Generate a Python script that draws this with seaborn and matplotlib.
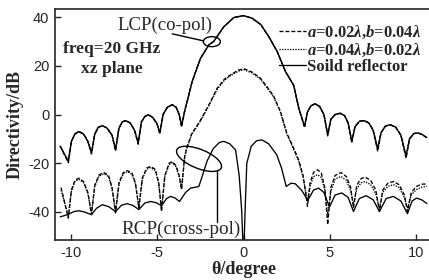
import numpy as np
import pandas as pd
import matplotlib
matplotlib.use("Agg")
import matplotlib.pyplot as plt
import matplotlib.transforms as mtransforms
from matplotlib.patches import Ellipse
from matplotlib.lines import Line2D
import seaborn as sns

# co-pol (LCP), solid reflector
co_theta = [-10.6, -10.13, -9.95, -9.75, -9.52, -9.25, -9.0, -8.79, -8.6, -8.4, -8.17, -7.9, -7.6, -7.4,
            -7.2, -7.0, -6.82, -6.55, -6.3, -6.09, -5.9, -5.7, -5.51, -5.25, -5.0, -4.84, -4.65, -4.4,
            -4.12, -3.9, -3.72, -3.58, -3.4, -3.26, -2.97, -2.49, -2.0, -1.72, -1.14, -0.56, 0.0, 0.5,
            1.0, 1.46, 1.95, 2.43, 2.9, 3.2, 3.53, 3.7, 3.9, 4.14, 4.4, 4.65, 4.87, 5.05, 5.3, 5.59,
            5.85, 6.05, 6.26, 6.45, 6.7, 6.97, 7.25, 7.5, 7.76, 7.95, 8.2, 8.48, 8.8, 9.1, 9.4, 9.6,
            9.85, 10.1, 10.35, 10.6]
co_solid = [-13, -19.3, -11, -8, -7, -8, -11, -15.8, -8, -5.3, -4.6, -5.5, -8.5, -14.5,
            -5.5, -3, -2.5, -3.5, -6.5, -11.7, -3, -0.8, -0.1, -1.2, -3.8, -7.6, 0, 3,
            4, 3, 0, -4.6, 1.5, 5.3, 13.5, 23, 28.6, 30, 36, 39.8, 40.6, 39.5,
            36.9, 32, 25.8, 17.6, 12, 2.5, -4.9, 1, 3.6, 4.4, 3.3, 0, -8.3, -2, 0, 0.5,
            -0.5, -3.5, -11, -5, -2.8, -2.5, -3.5, -6.5, -14.2, -7.5, -4.8, -4.2, -5.2, -8.5, -17.2, -10,
            -7.8, -7.6, -8.3, -9.5]
co_grid_a = [-13, -19.8, -11, -8, -7, -8, -11, -16.2, -8, -5.3, -4.6, -5.5, -8.5, -15.0,
             -5.5, -3, -2.5, -3.5, -6.5, -12.2, -3, -0.8, -0.1, -1.2, -3.8, -8.0, 0, 3,
             4, 3, 0, -5.2, 1.5, 5.3, 13.5, 23, 28.6, 30, 36, 39.8, 40.6, 39.5,
             36.9, 32, 25.8, 17.6, 12, 2.5, -5.4, 1, 3.6, 4.4, 3.3, 0, -8.8, -2, 0, 0.5,
             -0.5, -3.5, -11.6, -5, -2.8, -2.5, -3.5, -6.5, -15.2, -7.5, -4.8, -4.2, -5.2, -8.5, -18.0, -10,
             -7.8, -7.6, -8.3, -9.5]
co_grid_b = [-13, -19.0, -11, -8, -7, -8, -11, -15.5, -8, -5.3, -4.6, -5.5, -8.5, -14.2,
             -5.5, -3, -2.5, -3.5, -6.5, -11.4, -3, -0.8, -0.1, -1.2, -3.8, -7.4, 0, 3,
             4, 3, 0, -4.4, 1.5, 5.3, 13.5, 23, 28.6, 30, 36, 39.8, 40.6, 39.5,
             36.9, 32, 25.8, 17.6, 12, 2.5, -4.6, 1, 3.6, 4.4, 3.3, 0, -8.0, -2, 0, 0.5,
             -0.5, -3.5, -10.6, -5, -2.8, -2.5, -3.5, -6.5, -13.8, -7.5, -4.8, -4.2, -5.2, -8.5, -16.6, -10,
             -7.8, -7.6, -8.3, -9.5]

# cross-pol (RCP), grid reflectors
x_theta = [-10.55, -10.13, -9.95, -9.75, -9.52, -9.25, -9.0, -8.79, -8.6, -8.35, -8.07, -7.8, -7.6, -7.4,
           -7.2, -6.95, -6.72, -6.45, -6.25, -6.05, -5.85, -5.6, -5.38, -5.1, -4.9, -4.74, -4.55, -4.3,
           -4.12, -3.9, -3.72, -3.58, -3.4, -3.25, -3.0, -2.5, -2.0, -1.52, -1.1, -0.75, -0.3, 0.02,
           0.5, 0.98, 1.4, 1.75, 2.14, 2.5, 2.85, 3.18, 3.45, 3.7, 3.85, 4.05, 4.28, 4.5, 4.7, 4.87,
           5.05, 5.3, 5.63, 5.95, 6.2, 6.36, 6.55, 6.8, 7.03, 7.35, 7.65, 7.86, 8.05, 8.35, 8.67, 9.0,
           9.3, 9.48, 9.7, 10.0, 10.3, 10.6]
x_grid_a = [-30, -42.5, -31, -27, -26.1, -27.5, -32, -41.1, -29, -24.8, -23.8, -25, -30, -40.4,
            -28, -23.8, -23, -24, -28, -38.4, -26, -22, -21.3, -22.5, -28, -39.8, -25, -20,
            -19.3, -21, -25, -30.9, -17, -13, -8, -2.5, 4, 10.8, 14.5, 16.3, 18.2, 18.8,
            17.4, 14.9, 11, 7.5, 1.2, -7.6, -13, -18.4, -25, -37.7, -28, -23.8, -22.7, -24, -30, -45.2,
            -30, -25, -23.8, -25.5, -30, -38.4, -29, -26.3, -25.7, -27, -31, -39.8, -31, -28.2, -27.5, -28.8,
            -33, -39.8, -32, -29.5, -28.6, -28.5]
x_grid_b = [-31, -41.5, -31.5, -27.5, -26.6, -28, -32.5, -40.5, -29.5, -25.3, -24.3, -25.5, -30.5, -39.8,
            -28.5, -24.3, -23.5, -24.5, -28.5, -37.8, -26.5, -22.5, -21.8, -23, -28.5, -39, -25.5, -20.5,
            -19.8, -21.5, -25.5, -30.2, -17.3, -13.3, -8.3, -2.8, 3.6, 10.4, 14.1, 15.9, 17.8, 18.4,
            17.0, 14.5, 10.6, 7.1, 0.8, -8, -13.5, -19, -26, -35.5, -29.5, -25.5, -24.7, -25.8, -31, -41,
            -31.5, -26.5, -25.4, -27, -31.5, -37, -30.5, -28, -27.5, -28.8, -32.5, -38.5, -32, -29.5, -28.8, -30,
            -34, -38.5, -33, -30.8, -29.8, -29.5]

# cross-pol (RCP), solid reflector
xs_theta = [-10.6, -10.13, -9.8, -9.52, -9.2, -8.79, -8.5, -8.17, -7.8, -7.4, -7.05, -6.72, -6.4, -6.05,
            -5.7, -5.38, -5.05, -4.74, -4.45, -4.22, -3.95, -3.7, -3.35, -3.06, -2.75, -2.58, -2.39, -2.1,
            -1.75, -1.4, -1.14, -0.8, -0.46, -0.25, -0.1, 0.0, 0.1, 0.19, 0.45, 0.75, 1.06, 1.45,
            1.92, 2.2, 2.47, 2.75, 2.99, 3.35, 3.72, 4.05, 4.34, 4.65, 4.97, 5.3, 5.68, 6.05,
            6.36, 6.7, 7.09, 7.5, 7.86, 8.25, 8.67, 9.1, 9.48, 9.75, 10.0, 10.3, 10.6]
xs_solid = [-42, -41, -39.8, -39.5, -40, -41.1, -38.5, -37, -37.8, -39.8, -37.2, -36.6, -37.3, -39,
            -36.3, -35.7, -36.2, -37.4, -34.5, -33.6, -34.3, -35.7, -32, -30.2, -29.8, -29.5, -25.4, -19,
            -14, -11.5, -11, -12, -14.5, -25, -40, -60, -38, -20, -13, -10.8, -10.4, -12,
            -16.5, -22, -29.5, -28.2, -28.4, -31, -35.2, -31, -30.2, -32, -38, -33, -32.2, -34,
            -39.8, -34.5, -33.3, -35, -39.8, -34.5, -33.6, -35.5, -40.7, -35.5, -34.3, -35, -36.5]

x_ticks = [-10, -5, 0, 5, 10]
y_ticks = [-40, -20, 0, 20, 40]
legend_labels = [r"$a$=0.02$\lambda$,$b$=0.04$\lambda$",
                 r"$a$=0.04$\lambda$,$b$=0.02$\lambda$",
                 "Soild reflector"]

sns.set_style("ticks")
plt.rcParams["font.family"] = ["Liberation Serif", "DejaVu Serif"]
plt.rcParams["font.weight"] = "bold"
plt.rcParams["mathtext.fontset"] = "custom"
plt.rcParams["mathtext.rm"] = "Liberation Serif:bold"
plt.rcParams["mathtext.it"] = "Liberation Serif:italic:bold"
plt.rcParams["mathtext.bf"] = "Liberation Serif:bold"
plt.rcParams["axes.unicode_minus"] = False

fig = plt.figure(figsize=(4.29, 2.8), dpi=100)
ax = fig.add_axes([55 / 429, 40 / 280, 377 / 429, 231 / 280])

lw = 0.95
sns.lineplot(x=co_theta, y=co_solid, ax=ax, color="black", lw=lw, sort=False)
sns.lineplot(x=co_theta, y=co_grid_a, ax=ax, color="black", lw=lw, ls=(0, (3, 1.5)), sort=False)
sns.lineplot(x=co_theta, y=co_grid_b, ax=ax, color="black", lw=lw, ls=(0, (1, 1)), sort=False)
sns.lineplot(x=x_theta, y=x_grid_a, ax=ax, color="black", lw=lw, ls=(0, (3, 1.5)), sort=False)
sns.lineplot(x=x_theta, y=x_grid_b, ax=ax, color="black", lw=lw, ls=(0, (1, 1)), sort=False)
sns.lineplot(x=xs_theta, y=xs_solid, ax=ax, color="black", lw=lw, sort=False)

ax.set_xlim(-10.9, 10.9)
ax.set_ylim(-51.5, 43.3)
ax.set_xticks(x_ticks)
ax.set_yticks(y_ticks)
ax.tick_params(direction="in", length=4, width=1, labelsize=10.5, pad=4)
for lab in ax.get_xticklabels() + ax.get_yticklabels():
    lab.set_fontfamily("Liberation Sans")
    lab.set_fontweight("normal")
ax.spines["right"].set_visible(False)
for s in ["left", "top", "bottom"]:
    ax.spines[s].set_linewidth(1.2)
ax.set_xlabel("θ/degree", fontsize=13, fontweight="bold", labelpad=1)
ax.set_ylabel("Directivity/dB", fontsize=13, fontweight="bold", labelpad=3)

# annotations
ax.text(-4.55, 36.5, "LCP(co-pol)", fontsize=13.5, fontweight="normal", ha="center", va="center")
ax.text(-7.6, 27, "freq=20 GHz", fontsize=12.5, ha="center", va="center")
ax.text(-7.6, 18.6, "xz plane", fontsize=12.5, ha="center", va="center")
ax.text(-3.6, -47, "RCP(cross-pol)", fontsize=13.8, fontweight="normal", ha="center", va="center")

def ring(cx, cy, w, h, ang):
    tr = fig.dpi_scale_trans + mtransforms.ScaledTranslation(cx, cy, ax.transData)
    ax.add_patch(Ellipse((0, 0), w, h, angle=ang, transform=tr, fill=False, color="black", lw=1.0))

ring(-1.83, 29.9, 0.17, 0.10, 0)
ax.plot([-4.12, -2.3], [33.1, 30.2], color="black", lw=1.0)
ring(-2.57, -18.2, 0.48, 0.19, -22)
ax.plot([-1.56, -1.56], [-23.0, -44.0], color="black", lw=1.0)

handles = [Line2D([], [], color="black", lw=lw, ls=(0, (3, 1.5))),
           Line2D([], [], color="black", lw=lw, ls=(0, (1, 1))),
           Line2D([], [], color="black", lw=lw)]
ax.legend(handles, legend_labels, loc="upper left", bbox_to_anchor=(0.595, 0.935),
          frameon=False, fontsize=12, handlelength=1.6, handletextpad=0.05,
          labelspacing=0.02, borderpad=0, borderaxespad=0)

fig.savefig("out.png", dpi=100)
